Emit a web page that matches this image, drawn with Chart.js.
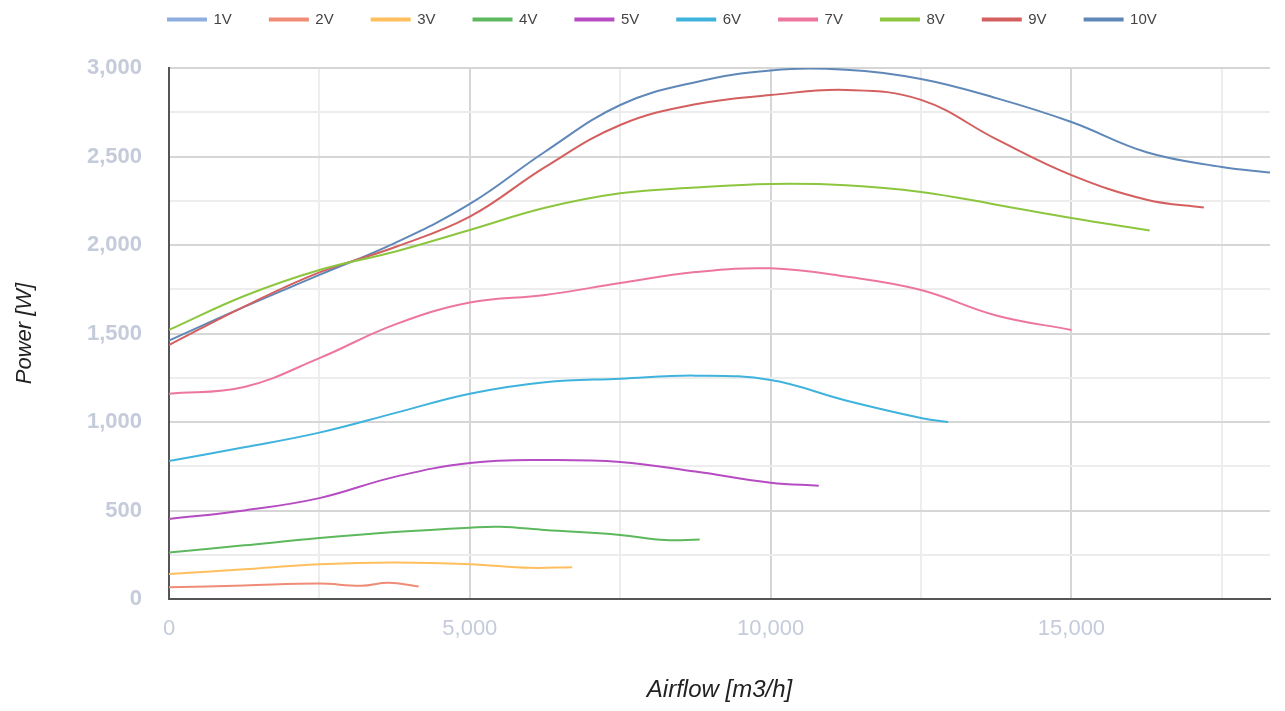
<!DOCTYPE html>
<html>
<head>
<meta charset="utf-8">
<script src="https://cdn.jsdelivr.net/npm/chart.js@4/dist/chart.umd.min.js"></script>
<style>
  html, body { margin: 0; padding: 0; background: #ffffff; }
  #wrap { width: 1285px; height: 711px; position: relative; }
</style>
</head>
<body>
<div id="wrap"><canvas id="c"></canvas></div>
<script>
// ---- data ----
const seriesNames = ['1V', '2V', '3V', '4V', '5V', '6V', '7V', '8V', '9V', '10V'];

const airflow1V = [];
const power1V = [];

const airflow2V = [0, 1250, 2500, 3200, 3650, 4150];
const power2V = [66, 76, 87, 75, 92, 70];

const airflow3V = [0, 1250, 2500, 3750, 5000, 6000, 6700];
const power3V = [141, 168, 196, 206, 197, 176, 180];

const airflow4V = [0, 1250, 2500, 3750, 5000, 5500, 6250, 7500, 8250, 8820];
const power4V = [262, 303, 344, 378, 403, 408, 390, 362, 333, 336];

const airflow5V = [0, 1250, 2500, 3750, 5000, 6250, 7500, 8750, 10000, 10800];
const power5V = [452, 500, 570, 690, 768, 785, 774, 720, 657, 640];

const airflow6V = [0, 1250, 2500, 3750, 5000, 6250, 7500, 8750, 10000, 11250, 12500, 12950];
const power6V = [780, 857, 940, 1050, 1160, 1225, 1245, 1262, 1237, 1122, 1023, 1000];

const airflow7V = [0, 1250, 2500, 3750, 5000, 6250, 7500, 8750, 10000, 11250, 12500, 13750, 15000];
const power7V = [1160, 1198, 1361, 1550, 1675, 1718, 1785, 1847, 1868, 1822, 1746, 1602, 1520];

const airflow8V = [0, 1250, 2500, 3750, 5000, 6250, 7500, 8750, 10000, 11250, 12500, 13750, 15000, 16300];
const power8V = [1520, 1712, 1859, 1962, 2085, 2210, 2292, 2325, 2345, 2338, 2300, 2228, 2152, 2082];

const airflow9V = [0, 1250, 2500, 3750, 5000, 6250, 7500, 8750, 10000, 11250, 12500, 13750, 15000, 16250, 17200];
const power9V = [1435, 1652, 1845, 1987, 2160, 2440, 2678, 2795, 2847, 2876, 2820, 2598, 2395, 2256, 2212];

const airflow10V = [0, 1250, 2500, 3750, 5000, 6250, 7500, 8750, 10000, 11250, 12500, 13750, 15000, 16250, 17500, 18300];
const power10V = [1460, 1650, 1831, 2011, 2232, 2527, 2791, 2920, 2986, 2990, 2938, 2830, 2695, 2524, 2441, 2410];

const xTickLabels = [0, 5000, 10000, 15000];
const xGridValues = [0, 2500, 5000, 7500, 10000, 12500, 15000, 17500];
const yTickLabels = [0, 500, 1000, 1500, 2000, 2500, 3000];

// ---- styles ----
const colors = ['#8eaee0', '#ef8b77', '#ffbf5e', '#5db85d', '#b64cc2', '#3fb3dc', '#ed76a0', '#8cc63f', '#d35f5f', '#5f88b8'];
const airflows = [airflow1V, airflow2V, airflow3V, airflow4V, airflow5V, airflow6V, airflow7V, airflow8V, airflow9V, airflow10V];
const powers = [power1V, power2V, power3V, power4V, power5V, power6V, power7V, power8V, power9V, power10V];

const datasets = seriesNames.map((name, i) => ({
  label: name,
  data: airflows[i].map((x, j) => ({ x: x, y: powers[i][j] })),
  borderColor: colors[i],
  backgroundColor: colors[i],
  borderWidth: 2,
  pointRadius: 0,
  pointHoverRadius: 0,
  tension: 0.4,
  fill: false
}));

Chart.defaults.font.family = "'Liberation Sans', Arial, sans-serif";

const legendShift = {
  id: 'legendShift',
  afterLayout(chart) {
    const lg = chart.legend;
    if (!lg) return;
    const p = lg.options.labels.padding;
    const w = lg.right - lg.left, h = lg.bottom - lg.top;
    lg.left = 168 - p; lg.right = lg.left + w;
    lg.top = 12 - p; lg.bottom = lg.top + h;
  }
};

const fmt = v => v.toLocaleString('en-US');

new Chart(document.getElementById('c'), {
  type: 'line',
  data: { datasets },
  plugins: [legendShift],
  options: {
    responsive: true,
    maintainAspectRatio: false,
    animation: false,
    layout: { padding: { top: 5, right: 15, left: 0, bottom: 0 } },
    plugins: {
      tooltip: { enabled: false },
      legend: {
        position: 'top',
        align: 'start',
        labels: {
          boxWidth: 38,
          boxHeight: 2,
          padding: 38,
          color: '#444444',
          font: { size: 15 }
        }
      }
    },
    scales: {
      x: {
        type: 'linear',
        min: 0,
        max: 18300,
        afterFit(scale) { scale.height = 112; },
        afterBuildTicks(scale) { scale.ticks = xGridValues.map(v => ({ value: v })); },
        ticks: {
          autoSkip: false,
          maxRotation: 0,
          padding: 17,
          color: '#c5cbda',
          font: { size: 22 },
          callback: v => xTickLabels.includes(v) ? fmt(v) : ''
        },
        grid: {
          drawTicks: false,
          lineWidth: 2,
          color: ctx => (ctx.tick && ctx.tick.value % 5000 === 0) ? '#d6d6d6' : '#ededed'
        },
        border: { display: true, color: '#555555', width: 2 },
        title: {
          display: true,
          text: 'Airflow [m3/h]',
          color: '#222222',
          font: { size: 24, style: 'italic' },
          padding: { top: 0, bottom: 6 }
        }
      },
      y: {
        type: 'linear',
        min: 0,
        max: 3000,
        afterFit(scale) { scale.width = 169; },
        ticks: {
          stepSize: 250,
          autoSkip: false,
          padding: 27,
          color: '#c5cbda',
          font: { size: 22, weight: 'bold' },
          callback: v => yTickLabels.includes(v) ? fmt(v) : ''
        },
        grid: {
          drawTicks: false,
          lineWidth: 2,
          color: ctx => (ctx.tick && ctx.tick.value % 500 === 0) ? '#d6d6d6' : '#ededed'
        },
        border: { display: true, color: '#555555', width: 2 },
        title: {
          display: true,
          text: 'Power [W]',
          color: '#222222',
          font: { size: 22, style: 'italic' },
          padding: { top: 12, bottom: 0 }
        }
      }
    }
  }
});
</script>
</body>
</html>
